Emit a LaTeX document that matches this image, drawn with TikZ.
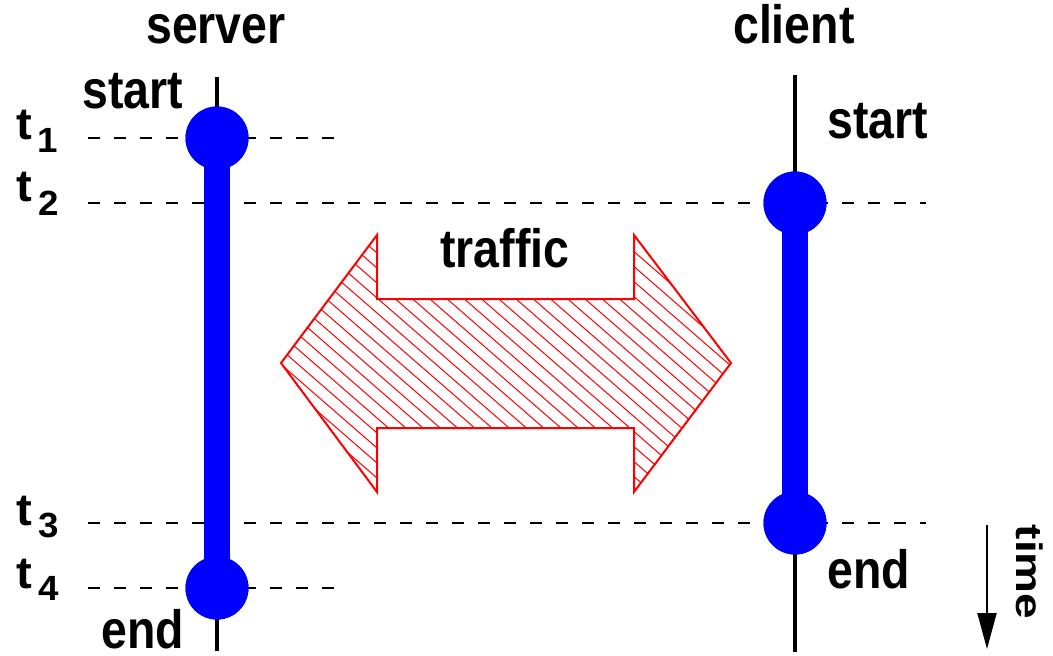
\documentclass[tikz,border=0pt]{standalone}
\usepackage{fontspec}
\setmainfont{Liberation Sans}
\usepackage{graphicx}
\usetikzlibrary{arrows.meta}
\newcommand{\lblA}[1]{\scalebox{0.86}[1]{\fontsize{54}{60}\selectfont\bfseries #1}}
\newcommand{\lblT}[1]{\scalebox{1.05}[1]{\fontsize{45}{50}\selectfont\bfseries #1}}
\newcommand{\lblD}[1]{\scalebox{1.05}[1]{\fontsize{35}{40}\selectfont\bfseries #1}}
\newcommand{\lblR}[1]{\scalebox{1}[0.8]{\fontsize{46}{50}\selectfont\bfseries #1}}
\begin{document}
\begin{tikzpicture}[x=1pt,y=-1pt,
  lbl/.style={inner sep=0pt, anchor=base west},
  dot/.style={circle, fill=blue, inner sep=0pt, minimum size=63pt},
  bar/.style={blue, line width=26pt},
  life/.style={black, line width=3.5pt},
  tline/.style={black, line width=2pt, dash pattern=on 12pt off 14pt},
  hatch/.style={red, line width=1pt},
  outline/.style={red, line width=2pt, line join=miter}]
\useasboundingbox (0,0) rectangle (1053,656);

% time lines
\coordinate (d1l) at (88,138);  \coordinate (d1r) at (334,138);
\coordinate (d2l) at (88,203);  \coordinate (d2r) at (926,203);
\coordinate (d3l) at (88,523);  \coordinate (d3r) at (926,523);
\coordinate (d4l) at (88,588);  \coordinate (d4r) at (334,588);
\draw[tline] (d1l) -- (d1r);
\draw[tline] (d2l) -- (d2r);
\draw[tline] (d3l) -- (d3r);
\draw[tline] (d4l) -- (d4r);

% lifelines
\coordinate (stop) at (217,77);  \coordinate (sbot) at (217,651);
\coordinate (ctop) at (795,75);  \coordinate (cbot) at (795,652);
\draw[life] (stop) -- (sbot);
\draw[life] (ctop) -- (cbot);

% active intervals
\node[dot] (s1) at (217,138) {};
\node[dot] (s4) at (217,588) {};
\node[dot] (c2) at (795,203) {};
\node[dot] (c3) at (795,523) {};
\draw[bar] (s1.center) -- (s4.center);
\draw[bar] (c2.center) -- (c3.center);
\node[dot] at (s1) {};
\node[dot] at (s4) {};
\node[dot] at (c2) {};
\node[dot] at (c3) {};

% traffic arrow
\begin{scope}
\clip (281,363) -- (377,235) -- (377,299) -- (634,299) -- (634,235) -- (731,363)
  -- (634,492) -- (634,428) -- (377,428) -- (377,492) -- cycle;
\foreach \c in {-420,-405,...,270} \draw[hatch] (250,{217.5+\c}) -- (760,{661.2+\c});
\end{scope}
\draw[outline] (281,363) -- (377,235) -- (377,299) -- (634,299) -- (634,235) -- (731,363)
  -- (634,492) -- (634,428) -- (377,428) -- (377,492) -- cycle;

% labels
\node[lbl] (server) at (146,43) {\lblA{server}};
\node[lbl] (client) at (733,43) {\lblA{client}};
\node[lbl] (sstart) at (82,108) {\lblA{start}};
\node[lbl] (cstart) at (827,138) {\lblA{start}};
\node[lbl] (send) at (101,648) {\lblA{end}};
\node[lbl] (cend) at (827,588) {\lblA{end}};
\node[lbl] (traffic) at (440,267) {\lblA{traffic}};

\node[lbl] (t1) at (16,139) {\lblT{t}};
\node[lbl] (t1s) at (37,152) {\lblD{1}};
\node[lbl] (t2) at (16,201) {\lblT{t}};
\node[lbl] (t2s) at (38,215) {\lblD{2}};
\node[lbl] (t3) at (16,525) {\lblT{t}};
\node[lbl] (t3s) at (38,537) {\lblD{3}};
\node[lbl] (t4) at (16,588) {\lblT{t}};
\node[lbl] (t4s) at (38,600) {\lblD{4}};

% time arrow
\coordinate (ta) at (987,525);
\coordinate (tb) at (987,649);
\draw[line width=2pt, -{Triangle[length=36pt,width=19pt]}] (ta) -- (tb);
\node[inner sep=0pt, rotate=-90] (time) at (1030,572) {\lblR{time}};
\end{tikzpicture}
\end{document}
